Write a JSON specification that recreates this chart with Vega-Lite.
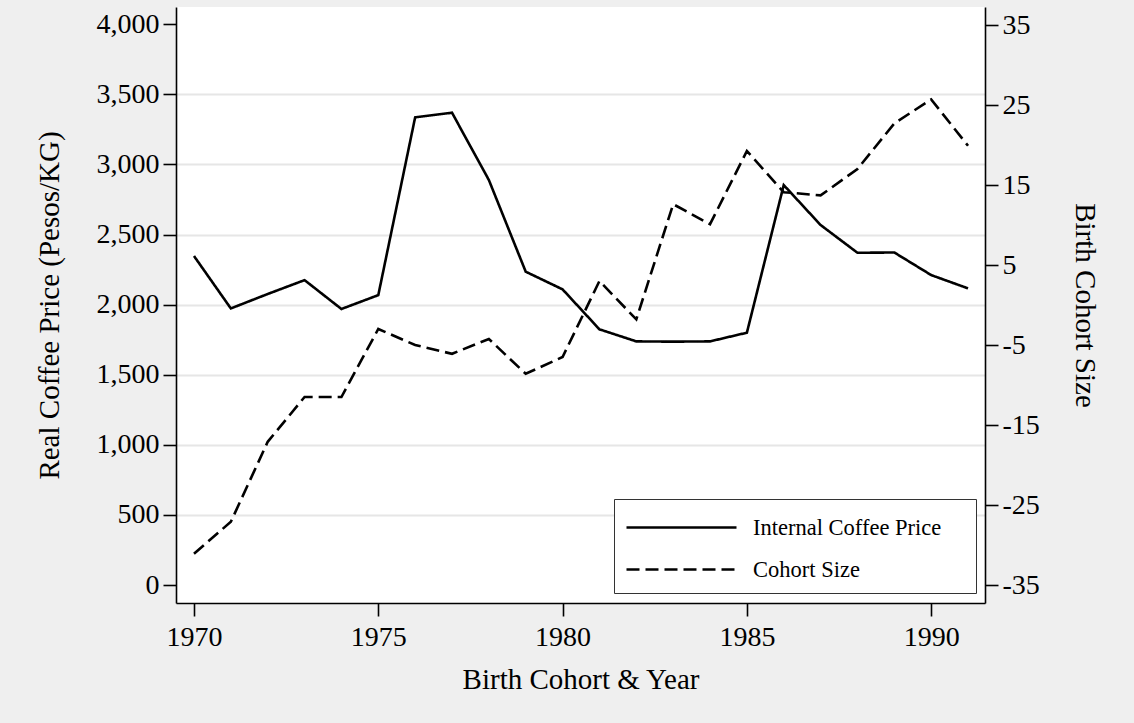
{
  "$schema": "https://vega.github.io/schema/vega-lite/v6.json",
  "width": 809,
  "height": 596,
  "autosize": {"type": "none"},
  "padding": {"left": 176, "top": 7, "right": 149, "bottom": 120},
  "background": "#efefef",
  "config": {
    "view": {"stroke": null, "fill": "white"},
    "font": "Liberation Serif",
    "axis": {
      "domainColor": "black",
      "domainWidth": 1.6,
      "tickColor": "black",
      "tickWidth": 1.6,
      "tickSize": 13,
      "labelColor": "black",
      "titleColor": "black",
      "labelFont": "Liberation Serif",
      "titleFont": "Liberation Serif",
      "labelFontSize": 28,
      "titleFontSize": 29,
      "titleFontWeight": "normal",
      "labelPadding": 4
    }
  },
  "data": {
    "values": [
      {"year": 1970, "price": 2347, "cohort": -31.1},
      {"year": 1971, "price": 1973, "cohort": -27.1},
      {"year": 1972, "price": 2076, "cohort": -17.1},
      {"year": 1973, "price": 2175, "cohort": -11.5},
      {"year": 1974, "price": 1969, "cohort": -11.5},
      {"year": 1975, "price": 2068, "cohort": -3.0},
      {"year": 1976, "price": 3336, "cohort": -5.0},
      {"year": 1977, "price": 3369, "cohort": -6.1},
      {"year": 1978, "price": 2889, "cohort": -4.25},
      {"year": 1979, "price": 2235, "cohort": -8.6},
      {"year": 1980, "price": 2109, "cohort": -6.5},
      {"year": 1981, "price": 1824, "cohort": 3.0},
      {"year": 1982, "price": 1738, "cohort": -1.8},
      {"year": 1983, "price": 1736, "cohort": 12.6},
      {"year": 1984, "price": 1738, "cohort": 10.1},
      {"year": 1985, "price": 1800, "cohort": 19.25},
      {"year": 1986, "price": 2853, "cohort": 14.1},
      {"year": 1987, "price": 2568, "cohort": 13.7},
      {"year": 1988, "price": 2370, "cohort": 17.0},
      {"year": 1989, "price": 2372, "cohort": 22.7},
      {"year": 1990, "price": 2211, "cohort": 25.7},
      {"year": 1991, "price": 2116, "cohort": 19.9}
    ]
  },
  "layer": [
    {
      "mark": {"type": "line", "color": "black", "strokeWidth": 2.6},
      "encoding": {
        "x": {
          "field": "year",
          "type": "quantitative",
          "scale": {"domain": [1969.512, 1991.46], "nice": false, "zero": false},
          "axis": {
            "values": [1970, 1975, 1980, 1985, 1990],
            "format": "d",
            "grid": false,
            "labelPadding": 7,
            "title": "Birth Cohort & Year",
            "titlePadding": 14
          }
        },
        "y": {
          "field": "price",
          "type": "quantitative",
          "scale": {"domain": [-128, 4123], "nice": false, "zero": false},
          "axis": {
            "values": [0, 500, 1000, 1500, 2000, 2500, 3000, 3500, 4000],
            "format": ",d",
            "grid": true,
            "gridColor": "#e6e6e6",
            "gridWidth": 2,
            "gridOpacity": {"condition": {"test": "datum.value == 0 || datum.value == 4000", "value": 0}, "value": 1},
            "title": "Real Coffee Price (Pesos/KG)",
            "titlePadding": 32
          }
        },
        "strokeDash": {
          "datum": "Internal Coffee Price",
          "type": "nominal",
          "scale": {"domain": ["Internal Coffee Price", "Cohort Size"], "range": [[1, 0], [13, 6]]},
          "legend": {
            "orient": "none",
            "direction": "vertical",
            "legendX": 438,
            "legendY": 492,
            "title": " ",
            "titleOrient": "right",
            "titlePadding": 23,
            "strokeColor": "#333333",
            "fillColor": "white",
            "padding": 12,
            "symbolType": "M-3.667,0H3.667",
            "symbolSize": 900,
            "symbolStrokeWidth": 2.6,
            "symbolStrokeColor": "black",
            "symbolFillColor": "transparent",
            "symbolOffset": 39,
            "labelOffset": 55,
            "labelFont": "Liberation Serif",
            "labelFontSize": 22.5,
            "labelColor": "black",
            "labelLimit": 400,
            "rowPadding": 14
          }
        }
      }
    },
    {
      "mark": {"type": "line", "color": "black", "strokeWidth": 2.6},
      "encoding": {
        "x": {"field": "year", "type": "quantitative"},
        "y": {
          "field": "cohort",
          "type": "quantitative",
          "scale": {"domain": [-37.25, 37.25], "nice": false, "zero": false},
          "axis": {
            "orient": "right",
            "values": [-35, -25, -15, -5, 5, 15, 25, 35],
            "labelExpr": "'' + datum.value",
            "grid": false,
            "title": "Birth Cohort Size",
            "titlePadding": 30
          }
        },
        "strokeDash": {"datum": "Cohort Size", "type": "nominal"}
      }
    }
  ],
  "resolve": {"scale": {"y": "independent"}}
}
